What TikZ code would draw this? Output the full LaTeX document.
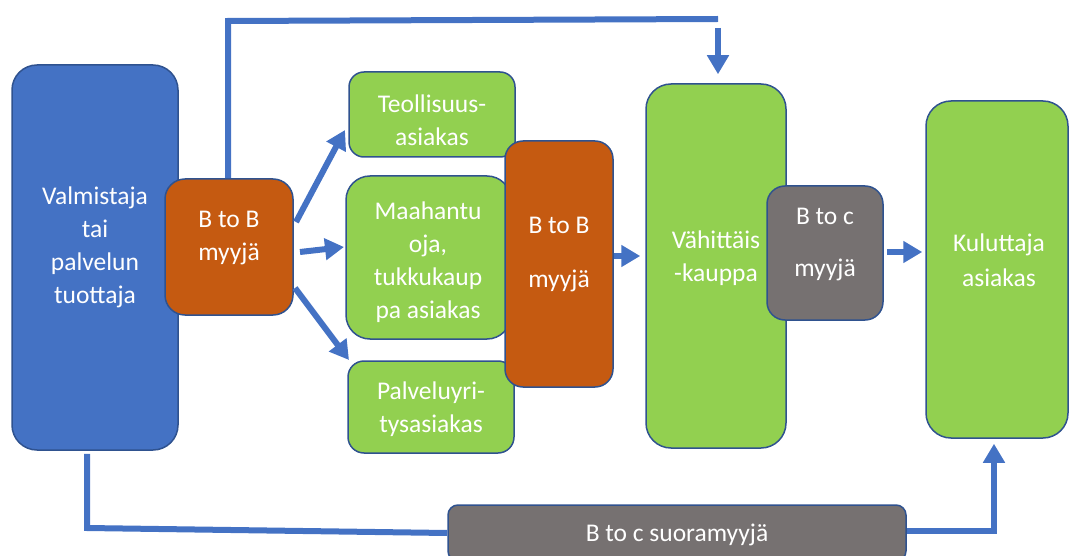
\documentclass[tikz,border=0pt]{standalone}
\usepackage{fontspec}
\setmainfont{Carlito}
\usetikzlibrary{arrows.meta}
\definecolor{cblue}{HTML}{4472C4}
\definecolor{cgreen}{HTML}{92D050}
\definecolor{corange}{HTML}{C55A11}
\definecolor{cgray}{HTML}{767171}
\definecolor{cedge}{HTML}{2F528F}
\begin{document}
\begin{tikzpicture}[x=1pt,y=-1pt,
  box/.style={draw=cedge, line width=1.5pt, rounded corners=#1, inner sep=0pt},
  box/.default=20pt,
  txt/.style={text=white, font=\fontsize{25.5}{33}\selectfont, align=center, inner sep=0pt},
  conn/.style={draw=cblue, line width=6pt},
  arr/.style={conn, -{Triangle[width=21pt,length=19pt]}}]
\useasboundingbox (0,0) rectangle (1070,556);
\clip (0,0) rectangle (1070,556);
% boxes
\node[box=25pt, fill=cblue, minimum width=166pt, minimum height=385pt] (val) at (95,257.5) {};
\node[box=20pt, fill=corange, minimum width=128pt, minimum height=136pt] (bbL) at (229,247) {};
\node[box=15pt, fill=cgreen, minimum width=166pt, minimum height=85pt] (teo) at (432,114.5) {};
\node[box=24pt, fill=cgreen, minimum width=165pt, minimum height=163pt] (maa) at (428.5,257.5) {};
\node[box=16pt, fill=cgreen, minimum width=166pt, minimum height=92pt] (pal) at (431,407) {};
\node[box=18pt, fill=corange, minimum width=108pt, minimum height=246pt] (bbM) at (559,264) {};
\node[box=25pt, fill=cgreen, minimum width=140pt, minimum height=364pt] (vah) at (716,266) {};
\node[box=18pt, fill=cgray, minimum width=116pt, minimum height=134pt] (btc) at (825,253) {};
\node[box=25pt, fill=cgreen, minimum width=142pt, minimum height=337pt] (kul) at (997,269.5) {};
\node[box=10pt, fill=cgray, minimum width=458pt, minimum height=56pt] (suo) at (677,533) {};
% texts
\node[txt] (val-t) at (95,247) {Valmistaja\\tai\\palvelun\\tuottaja};
\node[txt] (bbL-t) at (229,238) {B to B\\myyjä};
\node[txt] (teo-t) at (432,120) {Teollisuus-\\asiakas};
\node[txt] (maa-t) at (428,262) {Maahantu\\oja,\\tukkukaup\\pa asiakas};
\node[txt] (bbM-t) at (559,255) {B to B\\[21pt]myyjä};
\node[txt] (pal-t) at (431,409) {Palveluyri-\\tysasiakas};
\node[txt] (vah-t) at (716,258) {Vähittäis\\-kauppa};
\node[txt] (btc-t) at (825,245) {B to c\\[19pt]myyjä};
\node[txt] (kul-t) at (999,260) {Kuluttaja\\[2pt]asiakas};
\node[txt] (suo-t) at (677,535) {B to c suoramyyjä};
% connectors
\coordinate (tc1) at (228,21);
\coordinate (tc2) at (718,19);
\coordinate (ta) at (718,28);
\draw[conn] (bbL.north -| tc1) -- (tc1) -- (tc2);
\draw[arr, shorten >=9pt] (ta) -- (ta |- vah.north);
\draw[arr] (296,222) -- (345,130);
\draw[arr] (300,252) -- (344,247);
\draw[arr] (295,288) -- (349,360);
\draw[arr, shorten >=5pt] (bbM.east |- 0,256) -- (vah.west |- 0,256);
\draw[arr, shorten <=3pt, shorten >=3pt] (btc.east |- 0,252) -- (kul.west |- 0,252);
\coordinate (bl) at (87,528);
\draw[conn, shorten <=3pt] (val.south -| bl) -- (bl) -- (suo.west);
\coordinate (br) at (994,531);
\draw[arr, shorten >=5pt] (suo.east |- br) -- (br) -- (br |- kul.south);
\end{tikzpicture}
\end{document}
